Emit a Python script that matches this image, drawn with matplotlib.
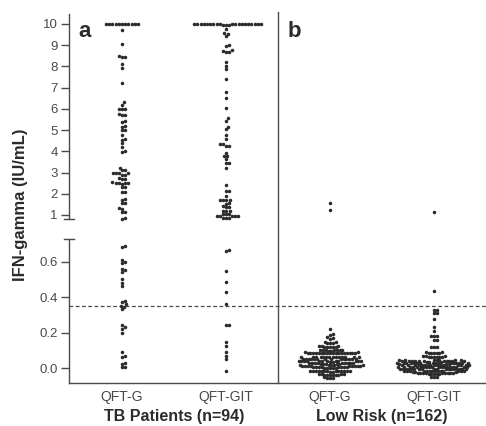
import matplotlib
matplotlib.use("Agg")
import matplotlib.pyplot as plt
import numpy as np
from matplotlib.lines import Line2D
from matplotlib.transforms import blended_transform_factory

# %% Style
INK = "#2b2b2b"
GREY = "#4a4a4a"
plt.rcParams.update(
    {
        "font.family": ["Liberation Sans", "DejaVu Sans"],
        "axes.edgecolor": GREY,
        "axes.linewidth": 1.0,
        "xtick.color": GREY,
        "ytick.color": GREY,
        "ytick.labelsize": 9.5,
        "xtick.labelsize": 10,
        "ytick.major.size": 6,
        "ytick.major.width": 1.0,
        "ytick.major.pad": 2,
    }
)

# %% Data (IFN-gamma, IU/mL; values above 10 plotted at 10)
groups = ["TB Patients (n=94)", "Low Risk (n=162)"]
tests = ["QFT-G", "QFT-GIT", "QFT-G", "QFT-GIT"]
cutoff = 0.35

tb_qft_g = [
    10, 10, 10, 10, 10, 10, 10, 10, 10, 10, 10,
    9.72, 9.04, 8.48, 8.46, 8.44, 8.10, 7.94, 7.21, 6.30, 6.18,
    6.01, 5.99, 5.97, 5.76, 5.73, 5.70, 5.42, 5.40, 5.17, 5.15,
    5.01, 4.99, 4.76, 4.57, 4.55, 4.37, 4.21, 4.01, 3.99,
    3.22, 3.12, 3.10, 2.99, 2.98, 2.97, 2.96, 2.89, 2.87, 2.72,
    2.71, 2.70, 2.53, 2.52, 2.51, 2.50, 2.49, 2.48, 2.34, 2.32,
    2.10, 2.08, 1.74, 1.72, 1.58, 1.56, 1.31, 1.29, 1.16, 1.14,
    0.85, 0.83,
    0.69, 0.68, 0.61, 0.60, 0.59, 0.56, 0.55, 0.54, 0.50, 0.48,
    0.46, 0.38, 0.37, 0.36, 0.35, 0.345, 0.33, 0.24, 0.23, 0.22,
    0.195, 0.09, 0.065, 0.06, 0.027, 0.025, 0.008, 0.005,
]

tb_qft_git = [
    10, 10, 10, 10, 10, 10, 10, 10, 10, 10, 10,
    10, 10, 10, 10, 10, 10, 10, 10,
    9.95, 9.94, 9.96, 9.76, 9.57, 9.55, 9.45, 8.99, 8.97, 8.77,
    8.71, 8.70, 8.69, 8.22, 8.03, 7.88, 7.41, 6.78, 6.50, 6.05,
    5.55, 5.43, 5.16, 5.03, 4.76, 4.60, 4.35, 4.33, 4.26, 4.24,
    3.93, 3.78, 3.76, 3.62, 3.47, 3.45, 3.19,
    2.41, 2.15, 2.13, 1.90, 1.72, 1.71, 1.70, 1.69, 1.56, 1.54,
    1.40, 1.39, 1.38, 1.21, 1.20, 1.19, 1.06, 1.05, 1.04, 0.97,
    0.96, 0.96, 0.95, 0.94, 0.86, 0.85, 0.84,
    0.665, 0.66, 0.545, 0.487, 0.43, 0.36, 0.245, 0.24, 0.148, 0.124,
    0.092, 0.068, 0.049, -0.015,
]

lr_qft_g = [
    1.58, 1.24,
    0.220, 0.190, 0.185, 0.172, 0.169, 0.166,
    0.146, 0.144, 0.142, 0.141, 0.139,
    0.123, 0.121, 0.120, 0.119, 0.118, 0.122, 0.117, 0.124,
    0.102, 0.101, 0.100, 0.099, 0.098, 0.103, 0.097, 0.101, 0.099,
    0.088, 0.087, 0.086, 0.085, 0.084, 0.083, 0.086, 0.085, 0.087, 0.084,
    0.083, 0.088, 0.085, 0.086, 0.084, 0.087, 0.085, 0.083, 0.086, 0.084,
    0.063, 0.061, 0.062, 0.060, 0.064, 0.062, 0.061, 0.063, 0.060, 0.062,
    0.064, 0.061, 0.063, 0.062,
    0.051, 0.049, 0.050, 0.052, 0.048, 0.050, 0.051, 0.049, 0.052, 0.050,
    0.048, 0.051, 0.049, 0.050,
    0.039, 0.037, 0.038, 0.040, 0.036, 0.038, 0.039, 0.037, 0.040, 0.038,
    0.036, 0.039, 0.037, 0.038,
    0.027, 0.025, 0.026, 0.028, 0.024, 0.026, 0.027, 0.025, 0.028, 0.026,
    0.024, 0.027, 0.025, 0.026,
    0.015, 0.013, 0.014, 0.016, 0.012, 0.014, 0.015, 0.013, 0.016, 0.014,
    0.012, 0.015, 0.013, 0.014,
    0.004, 0.002, 0.003, 0.005, 0.001, 0.003, 0.004, 0.002, 0.005, 0.003,
    0.001, 0.004, 0.002,
    -0.017, -0.019, -0.018, -0.016, -0.020, -0.018, -0.017, -0.019, -0.016, -0.020,
    -0.018, -0.017, -0.019, -0.018, -0.016,
    -0.036, -0.038, -0.037, -0.035, -0.039, -0.036, -0.038, -0.037, -0.035, -0.039,
    -0.054, -0.055, -0.053, -0.056,
]

lr_qft_git = [
    1.12,
    0.434, 0.328, 0.326, 0.311, 0.309, 0.274, 0.233, 0.210, 0.182, 0.180,
    0.178, 0.159, 0.157, 0.121, 0.119, 0.118,
    0.088, 0.086, 0.087, 0.085, 0.089, 0.086, 0.087,
    0.065, 0.063, 0.064, 0.066, 0.062, 0.064, 0.065, 0.063, 0.064,
    0.043, 0.041, 0.042, 0.044, 0.040, 0.042, 0.043, 0.041, 0.044, 0.042,
    0.040, 0.043, 0.041, 0.042, 0.044, 0.040, 0.043, 0.042,
    0.031, 0.029, 0.030, 0.032, 0.028, 0.030, 0.031, 0.029, 0.032, 0.030,
    0.028, 0.031, 0.029, 0.030, 0.032, 0.028, 0.031, 0.030, 0.029,
    0.019, 0.017, 0.018, 0.020, 0.016, 0.018, 0.019, 0.017, 0.020, 0.018,
    0.016, 0.019, 0.017, 0.018, 0.020, 0.016, 0.019, 0.018, 0.017,
    0.007, 0.005, 0.006, 0.008, 0.004, 0.006, 0.007, 0.005, 0.008, 0.006,
    0.004, 0.007, 0.005, 0.006, 0.008, 0.004, 0.007, 0.006, 0.005,
    -0.005, -0.007, -0.006, -0.004, -0.008, -0.006, -0.005, -0.007, -0.004, -0.006,
    -0.008, -0.005, -0.007, -0.006, -0.004, -0.008, -0.005, -0.006,
    -0.017, -0.019, -0.018, -0.016, -0.020, -0.018, -0.017, -0.019, -0.016, -0.020,
    -0.018, -0.017, -0.019, -0.018, -0.016, -0.020, -0.017,
    -0.029, -0.031, -0.030, -0.028, -0.032, -0.030, -0.029, -0.031, -0.028, -0.030,
    -0.032, -0.029, -0.031, -0.030,
    -0.048, -0.051, -0.050,
]

series = [tb_qft_g, tb_qft_git, lr_qft_g, lr_qft_git]
positions = [0, 1, 2, 3]
spacing = [3.2, 3.2, 2.8, 2.75]  # swarm collision distance in pixels


def swarm_x(ax, x0, values, d):
    """Beeswarm offsets computed in display pixels, returned in data units."""
    vals = np.asarray(values, dtype=float)
    if len(vals) == 0:
        return vals
    pts = ax.transData.transform(np.column_stack([np.full(len(vals), x0), vals]))
    xc, ys = pts[0, 0], pts[:, 1]
    xs = np.zeros(len(vals))
    placed = []
    for i in np.argsort(ys, kind="stable"):
        y = ys[i]
        near = [(px, py) for px, py in placed if abs(py - y) < d]
        cands = [0.0]
        for px, py in near:
            dx = np.sqrt(max(d * d - (py - y) ** 2, 0.0))
            cands += [px - xc + dx, px - xc - dx]
        cands.sort(key=abs)
        off = cands[-1]
        for c in cands:
            if all((xc + c - px) ** 2 + (y - py) ** 2 >= d * d - 1e-6 for px, py in near):
                off = c
                break
        xs[i] = xc + off
        placed.append((xc + off, y))
    return ax.transData.inverted().transform(np.column_stack([xs, ys]))[:, 0]


# %% Plot
fig = plt.figure(figsize=(4.86, 4.26), dpi=100)
L, R = 69 / 486, 1.0
ax_top = fig.add_axes([L, 1 - 219 / 426, R - L, 205 / 426])
ax_bot = fig.add_axes([L, 1 - 383 / 426, R - L, 144 / 426])

xlim = (-0.51, 3.5)
for ax in (ax_top, ax_bot):
    ax.set_xlim(*xlim)
    ax.set_facecolor("none")
    for s in ("top", "right"):
        ax.spines[s].set_visible(False)
ax_top.set_ylim(0.81, 10.47)
ax_bot.set_ylim(-0.0845, 0.727)
ax_top.spines["bottom"].set_visible(False)
ax_top.set_xticks([])
ax_top.set_yticks(range(1, 11))
ax_bot.set_yticks([0.0, 0.2, 0.4, 0.6])
ax_bot.set_yticklabels(["0.0", "0.2", "0.4", "0.6"])
ax_bot.set_xticks(positions)
ax_bot.set_xticklabels(tests)
ax_bot.tick_params(axis="x", length=0, pad=5)

# small caps at the break of the y axis
ax_top.plot([-0.012, 0.012], [0, 0], transform=ax_top.transAxes, color=GREY,
            lw=1.0, clip_on=False)
ax_bot.plot([-0.012, 0.012], [1, 1], transform=ax_bot.transAxes, color=GREY,
            lw=1.0, clip_on=False)

for x0, vals, d in zip(positions, series, spacing):
    vals = np.asarray(vals, dtype=float)
    hi = vals[vals >= 0.78]
    lo = vals[vals < 0.78]
    for ax, part in ((ax_top, hi), (ax_bot, lo)):
        if len(part):
            xs = swarm_x(ax, x0, part, d)
            ax.scatter(xs, part, s=6.5, color=INK, linewidths=0, clip_on=False,
                       zorder=3)

ax_bot.axhline(cutoff, color=GREY, lw=0.9, ls=(0, (3, 2)), zorder=1)

# divider between panels
trans = blended_transform_factory(ax_bot.transData, fig.transFigure)
fig.add_artist(Line2D([1.5, 1.5], [1 - 12 / 426, 1 - 383 / 426], transform=trans,
                      color=GREY, lw=1.0))

# panel letters
ax_top.text(-0.36, 9.39, "a", fontsize=16, fontweight="bold", color=INK,
            ha="center", va="baseline")
ax_top.text(1.66, 9.39, "b", fontsize=16, fontweight="bold", color=INK,
            ha="center", va="baseline")

# group labels
gtrans = blended_transform_factory(ax_bot.transData, ax_bot.transAxes)
for xc, lab in zip([0.5, 2.5], groups):
    ax_bot.text(xc, -0.264, lab, transform=gtrans, fontsize=11.5,
                fontweight="bold", color=INK, ha="center", va="baseline")

fig.text(20 / 486, 1 - 205 / 426, "IFN-gamma (IU/mL)", rotation=90,
         fontsize=12, fontweight="bold", color=INK, ha="center", va="center")

fig.savefig("out.png", dpi=100, facecolor="white")
